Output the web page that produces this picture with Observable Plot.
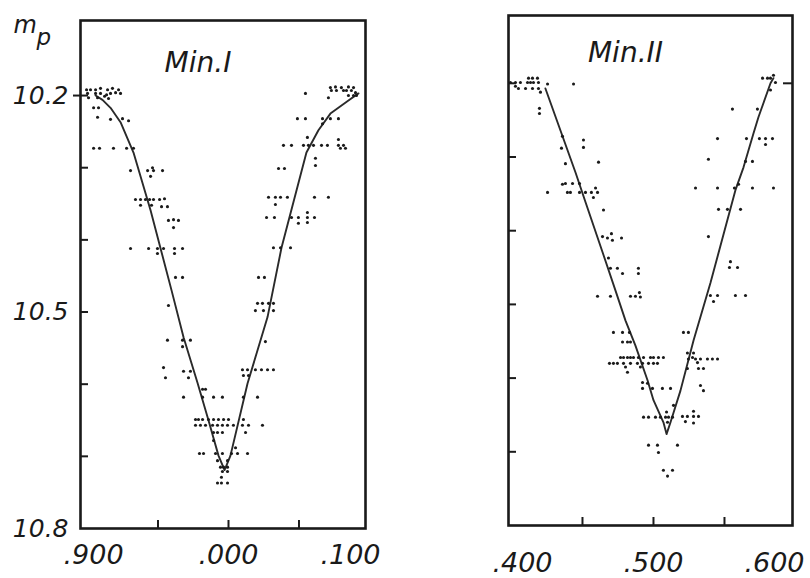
<!DOCTYPE html>
<html><head><meta charset="utf-8">
<script src="https://cdn.jsdelivr.net/npm/d3@7"></script>
<script src="https://cdn.jsdelivr.net/npm/@observablehq/plot@0.6"></script>
<style>
html,body{margin:0;padding:0;background:#fff;}
#wrap{position:relative;width:810px;height:578px;overflow:hidden;background:#fff;}
#p1{position:absolute;left:0;top:0;}
#p2{position:absolute;left:400px;top:0;}
</style></head><body>
<div id="wrap"><div id="p1"></div><div id="p2"></div></div>
<script>
// ---- Min. I : observed points (phase offset from 0.000, magnitude m_p)
const minIPhase = [
 -0.1007,-0.0979,-0.0943,-0.0908,-0.0858,-0.0823,-0.0780,
 -0.1000,-0.0943,-0.0908,-0.0865,-0.0837,-0.0801,-0.0766,
 -0.0993,-0.0929,-0.0879,-0.0851,
 -0.0957,-0.0922,-0.0929,-0.0837,-0.0752,-0.0709,
 -0.0957,-0.0915,-0.0816,-0.0723,-0.0674,
 -0.0695,-0.0574,-0.0532,-0.0468,-0.0553,-0.0539,
 -0.0660,-0.0624,-0.0589,-0.0560,-0.0532,-0.0489,-0.0454,
 -0.0624,-0.0546,-0.0475,-0.0433,
 -0.0426,-0.0390,-0.0355,-0.0390,
 -0.0695,-0.0567,-0.0504,-0.0461,-0.0383,-0.0326,-0.0504,-0.0383,
 -0.0376,-0.0326,-0.0426,
 -0.0433,-0.0326,-0.0270,-0.0326,
 -0.0461,-0.0447,-0.0319,-0.0270,-0.0284,
 -0.0184,-0.0163,
 -0.0319,-0.0184,-0.0106,-0.0043,0.0106,0.0206,
 -0.0234,-0.0213,-0.0184,-0.0142,-0.0106,-0.0071,-0.0035,0.0000,0.0106,
 -0.0234,-0.0199,-0.0163,-0.0113,-0.0078,-0.0043,-0.0007,0.0035,0.0099,0.0142,0.0241,
 -0.0106,-0.0078,-0.0043,0.0121,
 -0.0106,0.0050,
 -0.0206,-0.0177,-0.0092,-0.0043,0.0021,0.0064,0.0135,
 -0.0078,-0.0007,
 -0.0057,-0.0035,-0.0007,-0.0043,-0.0007,
 -0.0050,-0.0078,-0.0050,-0.0007,
 0.0723,0.0759,0.0801,0.0851,0.0887,0.0730,0.0766,0.0816,0.0837,0.0872,0.0901,0.0851,0.0887,0.0908,0.0709,
 0.0546,
 0.0489,0.0546,0.0667,0.0723,0.0780,0.0667,
 0.0560,0.0780,
 0.0390,0.0447,0.0532,0.0567,0.0603,0.0660,0.0702,0.0780,0.0816,0.0794,0.0830,
 0.0617,0.0617,0.0355,0.0397,
 0.0284,0.0333,0.0369,0.0418,0.0610,0.0709,0.0333,
 0.0270,0.0326,0.0447,0.0496,0.0560,0.0610,0.0560,0.0496,0.0560,
 0.0319,0.0369,0.0440,
 0.0213,0.0255,
 0.0206,0.0241,0.0284,0.0319,0.0191,0.0248,0.0319,
 0.0262,
 0.0099,0.0135,0.0191,0.0234,0.0277,0.0319,0.0106,0.0142
];
const minIMag = [
 10.192,10.192,10.192,10.190,10.192,10.190,10.192,
 10.197,10.197,10.197,10.199,10.197,10.196,10.197,
 10.203,10.203,10.201,10.204,
 10.217,10.217,10.230,10.233,10.232,10.235,
 10.273,10.273,10.273,10.273,10.273,
 10.304,10.304,10.304,10.304,10.312,10.300,
 10.344,10.344,10.344,10.344,10.344,10.344,10.343,
 10.352,10.352,10.354,10.354,
 10.373,10.372,10.373,10.383,
 10.412,10.412,10.412,10.412,10.412,10.412,10.419,10.419,
 10.452,10.452,10.491,
 10.539,10.539,10.539,10.548,
 10.577,10.591,10.582,10.582,10.591,
 10.607,10.607,
 10.618,10.618,10.618,10.618,10.618,10.618,
 10.649,10.649,10.649,10.649,10.649,10.649,10.649,10.649,10.649,
 10.657,10.657,10.657,10.657,10.657,10.657,10.657,10.657,10.657,10.657,10.657,
 10.667,10.667,10.667,10.667,
 10.678,10.688,
 10.696,10.696,10.696,10.696,10.696,10.696,10.696,
 10.706,10.706,
 10.715,10.715,10.715,10.721,10.721,
 10.729,10.737,10.737,10.737,
 10.189,10.188,10.189,10.188,10.189,10.193,10.193,10.193,10.193,10.193,10.196,10.200,10.200,10.200,10.203,
 10.197,
 10.232,10.232,10.232,10.232,10.232,10.239,
 10.258,10.261,
 10.269,10.269,10.269,10.269,10.269,10.269,10.269,10.269,10.269,10.273,10.273,
 10.287,10.297,10.301,10.301,
 10.341,10.341,10.341,10.341,10.341,10.341,10.351,
 10.369,10.369,10.369,10.369,10.369,10.369,10.362,10.377,10.376,
 10.411,10.411,10.411,
 10.452,10.452,
 10.488,10.488,10.488,10.488,10.498,10.498,10.498,
 10.541,
 10.580,10.580,10.580,10.580,10.580,10.580,10.588,10.588
];
// ---- Min. I : drawn mean curve
const minICurvePhase = [-0.0943,-0.0894,-0.0837,-0.0766,-0.0674,-0.0553,-0.0404,-0.0319,-0.0220,-0.0142,-0.0071,-0.0028,0.0014,0.0135,0.0277,0.0376,0.0553,0.0638,0.0723,0.0851,0.0922];
const minICurveMag   = [10.200,10.206,10.217,10.237,10.279,10.359,10.470,10.535,10.598,10.650,10.699,10.719,10.699,10.599,10.507,10.411,10.279,10.248,10.225,10.207,10.197];

// ---- Min. II : observed points
const minIIPhase = [
 0.3993,0.4028,0.4063,0.4113,0.4134,0.4155,0.4190,0.4254,0.4183,0.4120,0.4148,
 0.4049,0.4099,0.4148,0.4190,0.4204,0.4028,0.4437,
 0.4197,0.4197,0.4359,0.4507,0.4507,0.4352,0.4380,0.4613,
 0.4254,0.4359,0.4380,0.4430,0.4479,0.4394,0.4415,0.4479,0.4521,0.4563,0.4606,0.4577,0.4592,
 0.4648,0.4641,0.4676,0.4711,0.4775,0.4704,0.4683,
 0.4697,0.4746,0.4894,0.4782,0.4894,
 0.4606,0.4697,0.4838,0.4873,0.4908,0.4901,
 0.4718,0.4782,0.4831,0.4782,0.4817,0.4838,
 0.4768,0.4789,0.4817,0.4838,0.4859,0.4894,0.4930,0.4979,0.5000,0.5035,0.5070,
 0.4690,0.4718,0.4746,0.4789,0.4838,0.4887,0.4923,0.4965,0.5000,0.5028,
 0.4803,0.4908,0.4817,0.4923,0.4958,
 0.4923,0.4993,0.5063,0.5120,0.5141,
 0.4930,0.4965,0.5014,0.5049,0.5085,0.5106,0.5134,0.5092,0.5099,
 0.4965,0.5028,0.5169,0.5035,0.5070,0.5134,0.5099,
 0.5211,0.5246,0.5239,0.5282,
 0.5246,0.5296,0.5331,0.5380,0.5415,0.5451,
 0.5239,0.5317,0.5352,0.5275,0.5310,0.5331,0.5352,
 0.5204,0.5239,0.5282,0.5317,0.5282,0.5282,0.5225,
 0.5401,0.5451,0.5577,0.5648,0.5423,
 0.5542,0.5535,0.5592,0.5387,
 0.5458,0.5521,0.5613,
 0.5296,0.5451,0.5570,0.5697,0.5845,0.5599,
 0.5387,0.5648,0.5697,
 0.5451,0.5655,0.5746,0.5789,0.5838,0.5789,
 0.5556,0.5732,
 0.5768,0.5803,0.5824,0.5845,0.5859,0.5824
];
const minIIMag = [
 10.199,10.199,10.199,10.199,10.199,10.199,10.199,10.201,10.193,10.193,10.193,
 10.207,10.207,10.207,10.207,10.212,10.204,10.201,
 10.234,10.241,10.272,10.277,10.287,10.288,10.309,10.307,
 10.348,10.337,10.336,10.336,10.336,10.348,10.348,10.348,10.348,10.348,10.348,10.355,10.342,
 10.372,10.408,10.410,10.413,10.410,10.404,10.437,
 10.451,10.451,10.451,10.458,10.458,
 10.489,10.489,10.489,10.489,10.490,10.484,
 10.538,10.538,10.538,10.551,10.551,10.551,
 10.572,10.572,10.572,10.572,10.572,10.572,10.572,10.572,10.572,10.572,10.572,
 10.580,10.580,10.580,10.580,10.580,10.580,10.580,10.580,10.580,10.580,
 10.585,10.585,10.592,10.606,10.607,
 10.614,10.614,10.614,10.614,10.637,
 10.653,10.653,10.653,10.653,10.653,10.653,10.653,10.646,10.660,
 10.691,10.691,10.691,10.701,10.725,10.725,10.733,
 10.538,10.538,10.566,10.566,
 10.574,10.574,10.574,10.574,10.574,10.574,
 10.587,10.587,10.587,10.572,10.579,10.610,10.617,
 10.652,10.652,10.652,10.652,10.645,10.661,10.659,
 10.488,10.488,10.488,10.488,10.496,
 10.442,10.450,10.450,10.408,
 10.371,10.371,10.371,
 10.342,10.342,10.342,10.342,10.342,10.337,
 10.303,10.306,10.306,
 10.275,10.275,10.275,10.275,10.275,10.283,
 10.235,10.235,
 10.193,10.193,10.193,10.189,10.199,10.209
];
// ---- Min. II : drawn mean curve
const minIICurvePhase = [0.4239,0.4451,0.4521,0.4648,0.4732,0.4803,0.4873,0.4958,0.5000,0.5070,0.5092,0.5120,0.5190,0.5282,0.5401,0.5577,0.5634,0.5704,0.5739,0.5824,0.5845];
const minIICurveMag   = [10.207,10.321,10.361,10.433,10.481,10.522,10.556,10.603,10.630,10.660,10.676,10.660,10.617,10.549,10.471,10.345,10.314,10.268,10.246,10.200,10.193];

// ---- axes
const magTicks = [10.2, 10.3, 10.4, 10.5, 10.6, 10.7];
const magLabels = [10.2, 10.5, 10.8];
const minITicks = [-0.05, 0, 0.05];
const minIXLabelVals = [-0.1, 0, 0.1];
const minIXLabels = [".900", ".000", ".100"];
const minIITicks = [0.45, 0.5, 0.55];
const minIIXLabelVals = [0.4, 0.5, 0.6];
const minIIXLabels = [".400", ".500", ".600"];

const ink = "#1a1a1a";
const font = "DejaVu Sans";

function pts(px, py) {
  return Plot.dot(d3.range(px.length), {x: i => px[i], y: i => py[i], r: 1.55, fill: ink, stroke: null});
}
function curve(px, py) {
  return Plot.line(d3.range(px.length), {x: i => px[i], y: i => py[i], stroke: "#2a2a2a", strokeWidth: 1.9});
}
function xLab(vals, labels, k, padding, dx) {
  return Plot.axisX([vals[k]], {tickSize: 0, tickPadding: padding, dx, fontSize: 27, fontStyle: "italic",
    tickFormat: () => labels[k], label: null, fill: ink});
}

// Left panel
const W1 = 380, H1 = 578, mL1 = 80, mR1 = 15, mT1 = 20, mB1 = 50;
const fw1 = W1 - mL1 - mR1, fh1 = H1 - mT1 - mB1;
const left = Plot.plot({
  width: W1, height: H1, marginLeft: mL1, marginRight: mR1, marginTop: mT1, marginBottom: mB1,
  style: {fontFamily: font, background: "transparent", color: ink},
  x: {domain: [-0.105, 0.0972]},
  y: {domain: [10.096, 10.8], reverse: true},
  marks: [
    Plot.frame({stroke: ink, strokeWidth: 2.6}),
    Plot.tickY(magTicks, {stroke: ink, strokeWidth: 2, insetRight: fw1 - 8}),
    Plot.tickY([10.2], {stroke: ink, strokeWidth: 2, insetLeft: -7, insetRight: fw1}),
    Plot.tickX(minITicks, {stroke: ink, strokeWidth: 2, insetTop: fh1 - 8}),
    Plot.axisY(magLabels, {tickSize: 0, tickPadding: 12, fontSize: 25, fontStyle: "italic",
      tickFormat: d => d.toFixed(1), label: null, fill: ink}),
    xLab(minIXLabelVals, minIXLabels, 0, 16, 6),
    xLab(minIXLabelVals, minIXLabels, 1, 16, 0),
    xLab(minIXLabelVals, minIXLabels, 2, 16, -19),
    curve(minICurvePhase, minICurveMag),
    pts(minIPhase, minIMag),
    Plot.text(["Min.I"], {text: d => d, frameAnchor: "top", dx: -25, dy: 43, lineAnchor: "middle",
      fontSize: 28, fontStyle: "italic", fill: ink}),
    Plot.text(["m"], {text: d => d, frameAnchor: "top-left", textAnchor: "start", dx: -67, dy: 5,
      lineAnchor: "middle", fontSize: 24, fontStyle: "italic", fill: ink}),
    Plot.text(["p"], {text: d => d, frameAnchor: "top-left", textAnchor: "start", dx: -44, dy: 17,
      lineAnchor: "middle", fontSize: 23, fontStyle: "italic", fill: ink})
  ]
});
document.getElementById("p1").appendChild(left);

// Right panel
const W2 = 410, H2 = 578, mL2 = 108, mR2 = 18, mT2 = 15, mB2 = 53;
const fw2 = W2 - mL2 - mR2, fh2 = H2 - mT2 - mB2;
const right = Plot.plot({
  width: W2, height: H2, marginLeft: mL2, marginRight: mR2, marginTop: mT2, marginBottom: mB2,
  style: {fontFamily: font, background: "transparent", color: ink},
  x: {domain: [0.3979, 0.5979]},
  y: {domain: [10.108, 10.8], reverse: true, axis: null},
  marks: [
    Plot.frame({stroke: ink, strokeWidth: 2.6}),
    Plot.tickY(magTicks, {stroke: ink, strokeWidth: 2, insetRight: fw2 - 8}),
    Plot.tickY([10.2], {stroke: ink, strokeWidth: 2, insetLeft: fw2 - 9}),
    Plot.tickX(minIITicks, {stroke: ink, strokeWidth: 2, insetTop: fh2 - 8}),
    xLab(minIIXLabelVals, minIIXLabels, 0, 27, 11),
    xLab(minIIXLabelVals, minIIXLabels, 1, 27, 0),
    xLab(minIIXLabelVals, minIIXLabels, 2, 27, -21),
    curve(minIICurvePhase, minIICurveMag),
    pts(minIIPhase, minIIMag),
    Plot.text(["Min.II"], {text: d => d, frameAnchor: "top", dx: -25, dy: 38, lineAnchor: "middle",
      fontSize: 28, fontStyle: "italic", fill: ink})
  ]
});
document.getElementById("p2").appendChild(right);
</script>
</body></html>
